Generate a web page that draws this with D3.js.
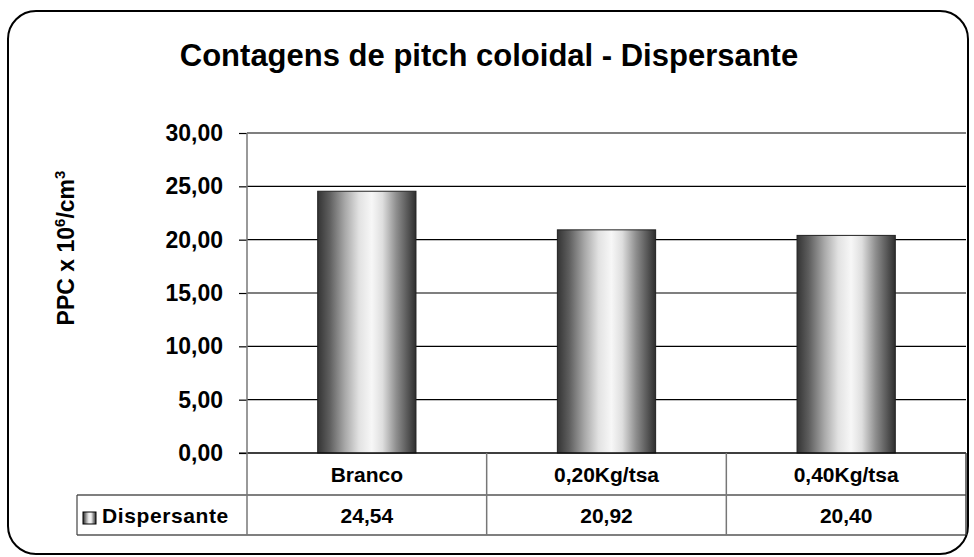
<!DOCTYPE html>
<html>
<head>
<meta charset="utf-8">
<script src="https://cdn.jsdelivr.net/npm/d3@7"></script>
<style>
  html, body { margin: 0; padding: 0; background: #fff; }
  svg { display: block; }
  text { font-family: "Liberation Sans", Arial, Helvetica, sans-serif; font-weight: bold; fill: #000; }
</style>
</head>
<body>
<svg id="chart" width="974" height="557"></svg>
<script>
// Chart data
const title = "Contagens de pitch coloidal - Dispersante";
const categories = ["Branco", "0,20Kg/tsa", "0,40Kg/tsa"];
const seriesName = "Dispersante";
const values = [24.54, 20.92, 20.40];
const yTicks = [0, 5, 10, 15, 20, 25, 30];

const svg = d3.select("#chart");
const fmt = v => d3.format(".2f")(v).replace(".", ",");

// Layout
const plot = { left: 247, right: 966, top: 133, bottom: 453 };
const tableLeft = 77, rowMid = 495, tableBottom = 535;

// Cylinder-like horizontal shading for the bars
const defs = svg.append("defs");
const grad = defs.append("linearGradient").attr("id", "barShade")
  .attr("x1", "0%").attr("x2", "100%").attr("y1", "0%").attr("y2", "0%");
[[0, "#343434"], [0.12, "#5e5e5e"], [0.28, "#a9a9a9"], [0.42, "#e2e2e2"],
 [0.55, "#f7f7f7"], [0.66, "#dedede"], [0.8, "#8e8e8e"], [0.92, "#555"], [1, "#2e2e2e"]]
  .forEach(([o, c]) => grad.append("stop").attr("offset", o).attr("stop-color", c));

// Outer rounded frame
svg.append("rect")
  .attr("x", 8).attr("y", 11).attr("width", 960).attr("height", 543)
  .attr("rx", 28).attr("ry", 28)
  .attr("fill", "#fff").attr("stroke", "#000").attr("stroke-width", 2);

// Title
svg.append("text")
  .attr("x", 489).attr("y", 66)
  .attr("text-anchor", "middle")
  .style("font-size", "31px")
  .text(title);

// Scales
const x = d3.scaleBand().domain(categories).range([plot.left, plot.right]).padding(0);
const y = d3.scaleLinear().domain([0, 30]).range([plot.bottom, plot.top]);

// Gridlines
svg.append("g").selectAll("line").data(yTicks).join("line")
  .attr("x1", plot.left).attr("x2", plot.right)
  .attr("y1", d => y(d)).attr("y2", d => y(d))
  .attr("stroke", "#000").attr("stroke-width", 1.2);

// Y axis (ticks and labels)
const yAxis = d3.axisLeft(y).tickValues(yTicks).tickSize(8).tickPadding(16).tickFormat(fmt);
const gy = svg.append("g").attr("transform", `translate(${plot.left},0)`).call(yAxis);
gy.select(".domain").remove();
gy.selectAll(".tick line").attr("stroke", "#000").attr("stroke-width", 1.2);
gy.selectAll(".tick text")
  .style("font-size", "23px")
  .style("font-family", "'Liberation Sans', Arial, sans-serif")
  .style("font-weight", "bold")
  .attr("fill", "#000");

// Y axis title
const yt = svg.append("text")
  .attr("transform", "translate(74,248) rotate(-90)")
  .attr("text-anchor", "middle")
  .style("font-size", "23px");
yt.append("tspan").text("PPC x 10");
yt.append("tspan").attr("dy", -9).style("font-size", "15px").text("6");
yt.append("tspan").attr("dy", 9).text("/cm");
yt.append("tspan").attr("dy", -9).style("font-size", "15px").text("3");

// Bars
const barW = x.bandwidth() * 0.41;
svg.append("g").selectAll("rect").data(values).join("rect")
  .attr("x", (d, i) => x(categories[i]) + (x.bandwidth() - barW) / 2)
  .attr("y", d => y(d))
  .attr("width", barW)
  .attr("height", d => y(0) - y(d))
  .attr("fill", "url(#barShade)")
  .attr("stroke", "#222").attr("stroke-width", 1);

// Data table under the plot
const tbl = svg.append("g");
// horizontal rules
tbl.append("line").attr("x1", plot.left - 8).attr("x2", plot.right)
  .attr("y1", plot.bottom).attr("y2", plot.bottom).attr("stroke", "#000").attr("stroke-width", 1.2);
[rowMid, tableBottom].forEach(yy =>
  tbl.append("line").attr("x1", tableLeft).attr("x2", plot.right)
    .attr("y1", yy).attr("y2", yy).attr("stroke", "#000").attr("stroke-width", 1.2));
// vertical rules
tbl.append("line").attr("x1", tableLeft).attr("x2", tableLeft)
  .attr("y1", rowMid).attr("y2", tableBottom).attr("stroke", "#444").attr("stroke-width", 1.2);
tbl.append("line").attr("x1", plot.left).attr("x2", plot.left)
  .attr("y1", plot.top).attr("y2", tableBottom).attr("stroke", "#777").attr("stroke-width", 1.5);
categories.forEach((c, i) => {
  const xr = x(c) + x.bandwidth();
  tbl.append("line").attr("x1", xr).attr("x2", xr)
    .attr("y1", plot.bottom).attr("y2", tableBottom)
    .attr("stroke", i === categories.length - 1 ? "#444" : "#777").attr("stroke-width", 1.5);
});
// category labels
tbl.selectAll("text.cat").data(categories).join("text").attr("class", "cat")
  .attr("x", d => x(d) + x.bandwidth() / 2)
  .attr("y", (plot.bottom + rowMid) / 2)
  .attr("dy", "0.36em")
  .attr("text-anchor", "middle")
  .style("font-size", "21px")
  .text(d => d);
// value labels
tbl.selectAll("text.val").data(values).join("text").attr("class", "val")
  .attr("x", (d, i) => x(categories[i]) + x.bandwidth() / 2)
  .attr("y", (rowMid + tableBottom) / 2)
  .attr("dy", "0.36em")
  .attr("text-anchor", "middle")
  .style("font-size", "21px")
  .text(d => fmt(d));
// legend key and series name
tbl.append("rect")
  .attr("x", 83).attr("y", 512).attr("width", 13).attr("height", 12)
  .attr("fill", "url(#barShade)").attr("stroke", "#000").attr("stroke-width", 1);
tbl.append("text")
  .attr("x", 102).attr("y", (rowMid + tableBottom) / 2)
  .attr("dy", "0.36em")
  .style("font-size", "21px")
  .style("letter-spacing", "0.6px")
  .text(seriesName);
</script>
</body>
</html>
